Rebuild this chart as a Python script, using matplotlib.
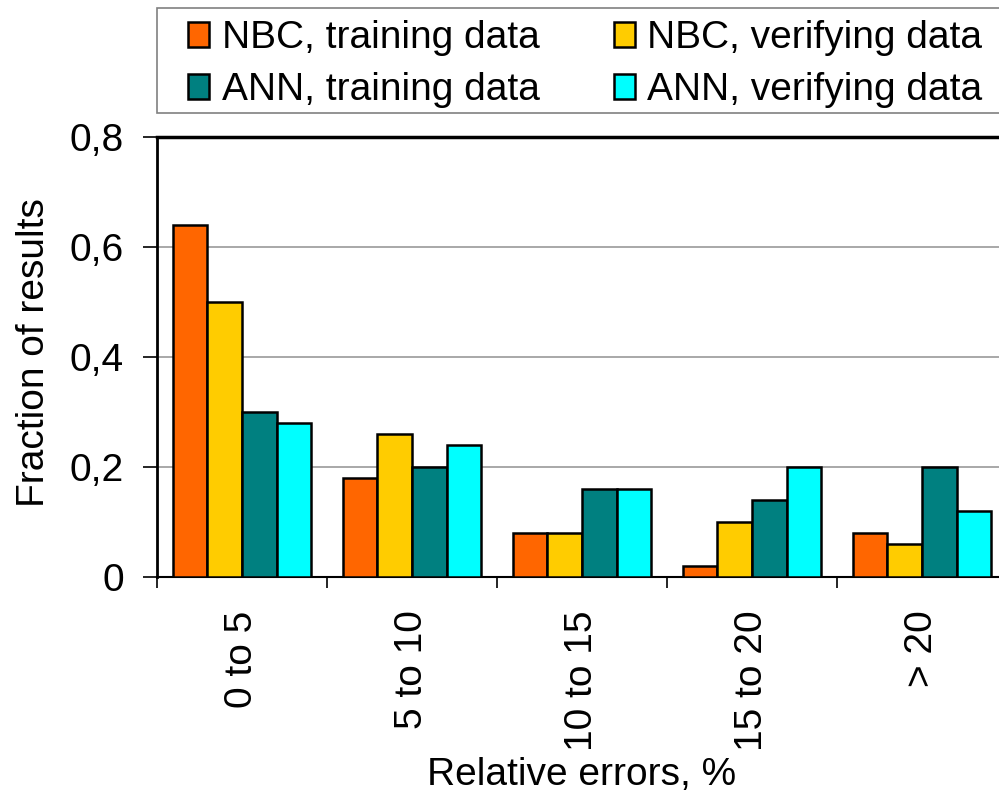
import numpy as np
import matplotlib
matplotlib.use("Agg")
import matplotlib.pyplot as plt
from matplotlib.patches import Rectangle

plt.rcParams['font.family'] = ['Liberation Sans', 'DejaVu Sans']

# data
categories = ['0 to 5', '5 to 10', '10 to 15', '15 to 20', '> 20']
nbc_train = [0.64, 0.18, 0.08, 0.02, 0.08]
nbc_verify = [0.50, 0.26, 0.08, 0.10, 0.06]
ann_train = [0.30, 0.20, 0.16, 0.14, 0.20]
ann_verify = [0.28, 0.24, 0.16, 0.20, 0.12]
series_names = ['NBC, training data', 'NBC, verifying data',
                'ANN, training data', 'ANN, verifying data']
y_ticks = [0, 0.2, 0.4, 0.6, 0.8]
y_ticklabels = ['0', '0,2', '0,4', '0,6', '0,8']

colors = ['#FF6600', '#FFCC00', '#008080', '#00FFFF']
fs = 28

fig = plt.figure(figsize=(9.99, 7.94), dpi=100)
ax = fig.add_axes([157/999, 217/794, 850/999, 440/794])

x = np.arange(len(categories))
w = 0.203
all_series = [nbc_train, nbc_verify, ann_train, ann_verify]
handles = []
for i, vals in enumerate(all_series):
    b = ax.bar(x + (i - 1.5) * w, vals, w, color=colors[i], edgecolor='black',
               linewidth=1.8, zorder=3, label=series_names[i])
    handles.append(b)

ax.set_xlim(-0.5, len(categories) - 0.5)
ax.set_ylim(0, 0.8)
ax.set_yticks(y_ticks)
ax.set_yticklabels(y_ticklabels, fontsize=fs)
ax.tick_params(axis='y', direction='out', length=10, width=1.2, pad=14)

ax.set_xticks(x)
ax.set_xticklabels(categories, rotation=90, fontsize=fs, va='top')
ax.tick_params(axis='x', which='major', length=0, pad=24)
ax.set_xticks(np.arange(len(categories) + 1) - 0.5, minor=True)
ax.tick_params(axis='x', which='minor', direction='out', length=8, width=1.2)

for yv in y_ticks[1:-1]:
    ax.axhline(yv, color='#999999', linewidth=1.2, zorder=1)

ax.spines['right'].set_visible(False)
ax.spines['top'].set_linewidth(2.5)
ax.spines['left'].set_linewidth(2)
ax.spines['bottom'].set_linewidth(1.5)

ax.set_xlabel('Relative errors, %', fontsize=fs)
ax.xaxis.set_label_coords(0.5, -0.41)
ax.set_ylabel('Fraction of results', fontsize=fs)
ax.yaxis.set_label_coords(-0.124, 0.511)

# legend: rows NBC / ANN, columns training / verifying
fig.patches.append(Rectangle((157/999, 1 - 113/794), 0.86, 105/794,
                             transform=fig.transFigure, facecolor='white',
                             edgecolor='#808080', linewidth=1.2))
order = [0, 2, 1, 3]
fig.legend(handles=[handles[k] for k in order], loc='upper left', ncol=2,
           frameon=False, bbox_to_anchor=(188/999, 1 - 20/794), fontsize=fs,
           borderpad=0, borderaxespad=0, handlelength=0.54, handleheight=0.59,
           handletextpad=0.33, columnspacing=1.9, labelspacing=0.42)

fig.savefig('out.png', dpi=100)
